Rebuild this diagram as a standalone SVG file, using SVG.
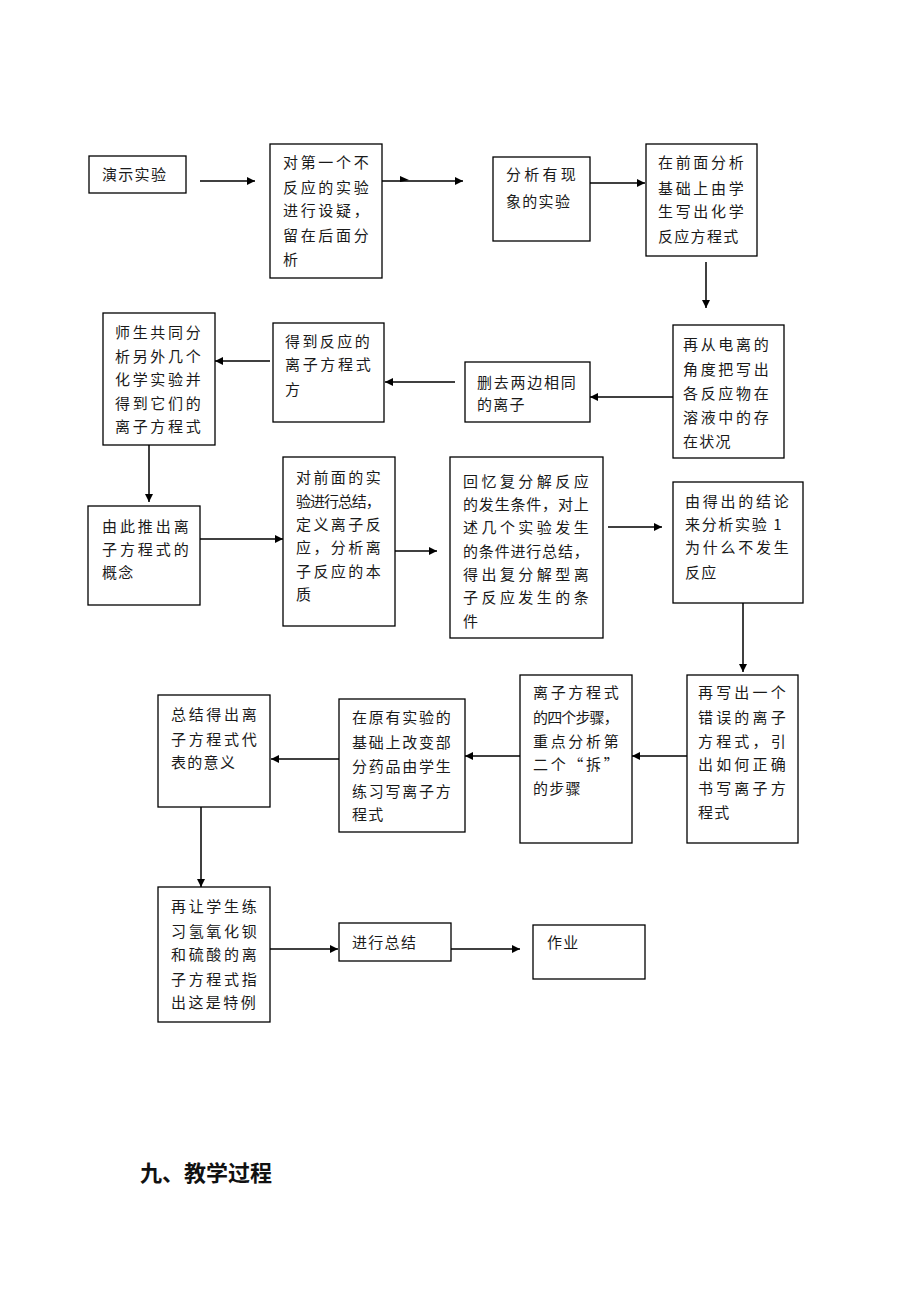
<svg xmlns="http://www.w3.org/2000/svg" width="920" height="1302" viewBox="0 0 920 1302">
<style>
.box{fill:#fff;stroke:#000;stroke-width:1.3}
.t{font-family:"Noto Sans CJK SC","Noto Sans",sans-serif;font-size:15px;fill:#1a1a1a;letter-spacing:1.3px}
.c line{stroke:#000;stroke-width:1.5;marker-end:url(#ah)}
.title{font-family:"Noto Sans CJK SC","Noto Sans",sans-serif;font-size:22px;font-weight:bold;fill:#111}
</style>
<defs>
<marker id="ah" viewBox="0 0 10 10" refX="10" refY="5" markerWidth="9" markerHeight="8" markerUnits="userSpaceOnUse" orient="auto">
<path d="M0,0 L10,5 L0,10 z" fill="#000"/>
</marker>
</defs>
<rect width="920" height="1302" fill="#fff"/>

<g id="connectors" class="c">
<line x1="200" y1="181" x2="255" y2="181"/>
<line x1="382" y1="181" x2="463" y2="181"/>
<line x1="590" y1="183" x2="645" y2="183"/>
<line x1="706" y1="262" x2="706" y2="308"/>
<line x1="673" y1="397" x2="590" y2="397"/>
<line x1="455" y1="382" x2="385" y2="382"/>
<line x1="270" y1="361" x2="215" y2="361"/>
<line x1="149" y1="445" x2="149" y2="502"/>
<line x1="200" y1="539" x2="283" y2="539"/>
<line x1="395" y1="551" x2="437" y2="551"/>
<line x1="608" y1="527" x2="662" y2="527"/>
<line x1="743" y1="603" x2="743" y2="672"/>
<line x1="687" y1="756" x2="632" y2="756"/>
<line x1="520" y1="756" x2="465" y2="756"/>
<line x1="339" y1="759" x2="271" y2="759"/>
<line x1="201" y1="805" x2="201" y2="887"/>
<line x1="270" y1="949" x2="338" y2="949"/>
<line x1="451" y1="949" x2="520" y2="949"/>
<polygon points="400,176 409,180 400,182" fill="#000"/>
</g>

<g id="n1"><rect class="box" x="89" y="156" width="97" height="37"/>
<text class="t" x="102" y="180">演示实验</text></g>

<g id="n2"><rect class="box" x="270" y="144" width="112" height="134"/>
<text class="t" x="283" y="168" textLength="87">对第一个不</text>
<text class="t" x="283" y="193" textLength="87">反应的实验</text>
<text class="t" x="283" y="216" textLength="87">进行设疑，</text>
<text class="t" x="283" y="241" textLength="87">留在后面分</text>
<text class="t" x="283" y="265">析</text></g>

<g id="n3"><rect class="box" x="493" y="157" width="97" height="84"/>
<text class="t" x="506" y="180" textLength="71">分析有现</text>
<text class="t" x="506" y="207">象的实验</text></g>

<g id="n4"><rect class="box" x="646" y="144" width="111" height="112"/>
<text class="t" x="658" y="168" textLength="87">在前面分析</text>
<text class="t" x="658" y="194" textLength="87">基础上由学</text>
<text class="t" x="658" y="217" textLength="87">生写出化学</text>
<text class="t" x="658" y="242">反应方程式</text></g>

<g id="n5"><rect class="box" x="673" y="325" width="111" height="133"/>
<text class="t" x="683" y="350" textLength="87">再从电离的</text>
<text class="t" x="683" y="375" textLength="87">角度把写出</text>
<text class="t" x="683" y="399" textLength="87">各反应物在</text>
<text class="t" x="683" y="423" textLength="87">溶液中的存</text>
<text class="t" x="683" y="447">在状况</text></g>

<g id="n6"><rect class="box" x="465" y="362" width="125" height="60"/>
<text class="t" x="477" y="388" textLength="100">删去两边相同</text>
<text class="t" x="477" y="410">的离子</text></g>

<g id="n7"><rect class="box" x="273" y="323" width="111" height="99"/>
<text class="t" x="285" y="347" textLength="86">得到反应的</text>
<text class="t" x="285" y="370" textLength="87">离子方程式</text>
<text class="t" x="285" y="395">方</text></g>

<g id="n8"><rect class="box" x="103" y="313" width="112" height="132"/>
<text class="t" x="115" y="338" textLength="87">师生共同分</text>
<text class="t" x="115" y="362" textLength="87">析另外几个</text>
<text class="t" x="115" y="385" textLength="87">化学实验并</text>
<text class="t" x="115" y="409" textLength="87">得到它们的</text>
<text class="t" x="115" y="432" textLength="87">离子方程式</text></g>

<g id="n9"><rect class="box" x="88" y="506" width="112" height="99"/>
<text class="t" x="102" y="532" textLength="88">由此推出离</text>
<text class="t" x="102" y="555" textLength="88">子方程式的</text>
<text class="t" x="102" y="578">概念</text></g>

<g id="n10"><rect class="box" x="283" y="457" width="112" height="169"/>
<text class="t" x="296" y="483" textLength="86">对前面的实</text>
<text class="t" x="296" y="507" textLength="86">验进行总结，</text>
<text class="t" x="296" y="530" textLength="86">定义离子反</text>
<text class="t" x="296" y="553" textLength="86">应，分析离</text>
<text class="t" x="296" y="577" textLength="86">子反应的本</text>
<text class="t" x="296" y="600">质</text></g>

<g id="n11"><rect class="box" x="450" y="457" width="153" height="181"/>
<text class="t" x="463" y="487" textLength="127">回忆复分解反应</text>
<text class="t" x="463" y="510" textLength="127">的发生条件，对上</text>
<text class="t" x="463" y="533" textLength="127">述几个实验发生</text>
<text class="t" x="463" y="557" textLength="127">的条件进行总结，</text>
<text class="t" x="463" y="580" textLength="127">得出复分解型离</text>
<text class="t" x="463" y="603" textLength="127">子反应发生的条</text>
<text class="t" x="463" y="627">件</text></g>

<g id="n12"><rect class="box" x="673" y="482" width="130" height="121"/>
<text class="t" x="685" y="507" textLength="105">由得出的结论</text>
<text class="t" x="685" y="530" textLength="98">来分析实验 1</text>
<text class="t" x="685" y="553" textLength="105">为什么不发生</text>
<text class="t" x="685" y="578">反应</text></g>

<g id="n13"><rect class="box" x="687" y="675" width="111" height="168"/>
<text class="t" x="698" y="698" textLength="89">再写出一个</text>
<text class="t" x="698" y="723" textLength="89">错误的离子</text>
<text class="t" x="698" y="747" textLength="89">方程式，引</text>
<text class="t" x="698" y="770" textLength="89">出如何正确</text>
<text class="t" x="698" y="794" textLength="89">书写离子方</text>
<text class="t" x="698" y="818">程式</text></g>

<g id="n14"><rect class="box" x="520" y="675" width="112" height="168"/>
<text class="t" x="533" y="698" textLength="87">离子方程式</text>
<text class="t" x="533" y="723" textLength="87">的四个步骤，</text>
<text class="t" x="533" y="747" textLength="87">重点分析第</text>
<text class="t" x="533" y="770" textLength="87">二个“拆”</text>
<text class="t" x="533" y="794">的步骤</text></g>

<g id="n15"><rect class="box" x="339" y="699" width="126" height="133"/>
<text class="t" x="352" y="723" textLength="100">在原有实验的</text>
<text class="t" x="352" y="748" textLength="100">基础上改变部</text>
<text class="t" x="352" y="772" textLength="100">分药品由学生</text>
<text class="t" x="352" y="797" textLength="100">练习写离子方</text>
<text class="t" x="352" y="820">程式</text></g>

<g id="n16"><rect class="box" x="158" y="695" width="112" height="112"/>
<text class="t" x="171" y="720" textLength="87">总结得出离</text>
<text class="t" x="171" y="745" textLength="87">子方程式代</text>
<text class="t" x="171" y="768">表的意义</text></g>

<g id="n17"><rect class="box" x="158" y="887" width="112" height="135"/>
<text class="t" x="171" y="912" textLength="87">再让学生练</text>
<text class="t" x="171" y="937" textLength="87">习氢氧化钡</text>
<text class="t" x="171" y="960" textLength="87">和硫酸的离</text>
<text class="t" x="171" y="985" textLength="87">子方程式指</text>
<text class="t" x="171" y="1008" textLength="86">出这是特例</text></g>

<g id="n18"><rect class="box" x="339" y="923" width="112" height="38"/>
<text class="t" x="352" y="948">进行总结</text></g>

<g id="n19"><rect class="box" x="533" y="925" width="112" height="54"/>
<text class="t" x="547" y="948">作业</text></g>

<text class="title" x="140" y="1181">九、教学过程</text>
</svg>
